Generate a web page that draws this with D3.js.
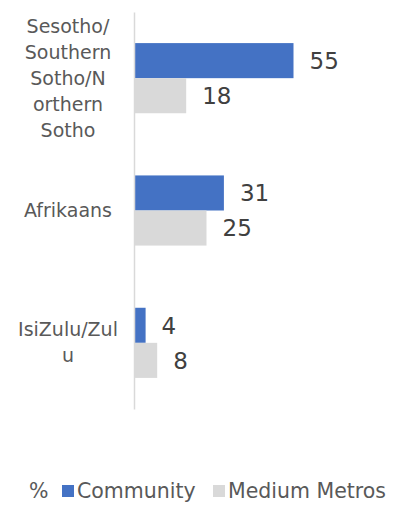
<!DOCTYPE html>
<html>
<head>
<meta charset="utf-8">
<script src="https://cdn.jsdelivr.net/npm/d3@7"></script>
<style>
  html, body { margin: 0; padding: 0; background: #fff; }
  svg { display: block; }
</style>
</head>
<body>
<script>
const categories = ["Sesotho/Southern Sotho/Northern Sotho", "Afrikaans", "IsiZulu/Zulu"];
const categoryLines = [["Sesotho/", "Southern", "Sotho/N", "orthern", "Sotho"], ["Afrikaans"], ["IsiZulu/Zul", "u"]];
const seriesNames = ["Community", "Medium Metros"];
const community = [55, 31, 4];
const mediumMetros = [18, 25, 8];
const colors = ["#4472C4", "#D9D9D9"];
const legendTitle = "%";

const W = 406, H = 513;
const svg = d3.select("body").append("svg").attr("width", W).attr("height", H);
const font = "'DejaVu Sans', sans-serif";

const x = d3.scaleLinear().domain([0, 60]).range([134, 134 + 60 * 2.9]);
const y = d3.scaleBand().domain(categories).range([12, 409]).paddingInner(0.47).paddingOuter(0.235);
const sub = d3.scaleBand().domain(seriesNames).range([0, y.bandwidth()]);

const data = categories.map((c, i) => ({ cat: c, vals: [community[i], mediumMetros[i]] }));

const g = svg.append("g");
const groups = g.selectAll("g.cat").data(data).join("g")
  .attr("transform", d => `translate(0,${y(d.cat)})`);

groups.selectAll("rect").data(d => d.vals.map((v, j) => ({ v, s: seriesNames[j], j })))
  .join("rect")
  .attr("x", x(0))
  .attr("y", d => sub(d.s))
  .attr("width", d => x(d.v) - x(0))
  .attr("height", sub.bandwidth())
  .attr("fill", d => colors[d.j]);

groups.selectAll("text.val").data(d => d.vals.map((v, j) => ({ v, s: seriesNames[j], j })))
  .join("text")
  .attr("class", "val")
  .attr("x", d => x(d.v) + 16)
  .attr("y", d => sub(d.s) + sub.bandwidth() / 2)
  .attr("dy", "0.36em")
  .attr("font-family", font)
  .attr("font-size", 23)
  .attr("fill", "#404040")
  .text(d => d.v);

// axis line
const yAxis = d3.axisLeft(y).tickSize(0).tickFormat("");
const ax = svg.append("g").attr("transform", `translate(${x(0)},0)`).call(yAxis);
ax.select(".domain").attr("stroke", "#D9D9D9").attr("stroke-width", 1.5);

// category labels
const lh = 26;
svg.selectAll("text.cat").data(categories).join("text")
  .attr("class", "cat")
  .attr("text-anchor", "middle")
  .attr("font-family", font)
  .attr("font-size", 19)
  .attr("fill", "#595959")
  .each(function(c, i) {
    const lines = categoryLines[i];
    const cy = y(c) + y.bandwidth() / 2;
    const t0 = cy - (lines.length - 1) * lh / 2;
    d3.select(this).selectAll("tspan").data(lines).join("tspan")
      .attr("x", 68)
      .attr("y", (l, k) => t0 + k * lh)
      .attr("dy", "0.35em")
      .text(l => l);
  });

// legend
const ly = 491;
const leg = svg.append("g").attr("font-family", font).attr("font-size", 20.5).attr("fill", "#595959");
leg.append("text").attr("x", 29).attr("y", ly).attr("dy", "0.35em").text(legendTitle);
const items = [{ name: seriesNames[0], sx: 62 }, { name: seriesNames[1], sx: 213 }];
items.forEach((it, i) => {
  leg.append("rect").attr("x", it.sx).attr("y", ly - 6).attr("width", 12).attr("height", 12).attr("fill", colors[i]);
  leg.append("text").attr("x", it.sx + 15).attr("y", ly).attr("dy", "0.35em").text(it.name);
});
</script>
</body>
</html>
